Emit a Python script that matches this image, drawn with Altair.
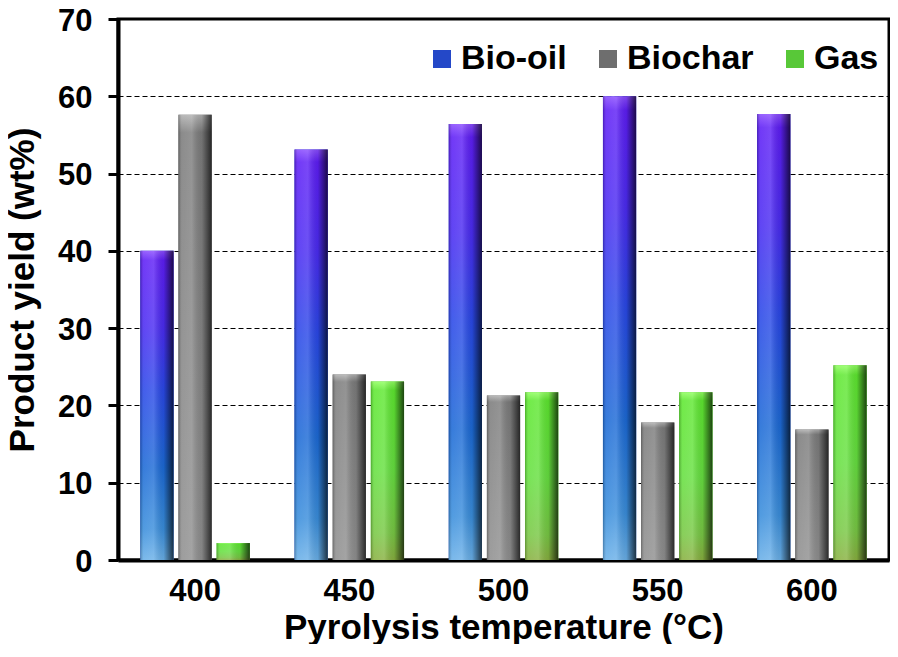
import altair as alt
import pandas as pd

temperatures = ["400", "450", "500", "550", "600"]
series = ["Bio-oil", "Biochar", "Gas"]
bio_oil = [40.0, 53.1, 56.4, 60.0, 57.7]
biochar = [57.6, 24.0, 21.3, 17.8, 16.9]
gas = [2.2, 23.1, 21.7, 21.7, 25.2]
y_ticks = [0, 10, 20, 30, 40, 50, 60, 70]
legend_colors = ["#2448c8", "#6e6e6e", "#58c838"]

rows = []
for name, vals in zip(series, [bio_oil, biochar, gas]):
    for t, v in zip(temperatures, vals):
        rows.append({"temp": t, "product": name, "yield": v})
df = pd.DataFrame(rows)

FONT = "Liberation Sans"

x_enc = alt.X(
    "temp:N", sort=temperatures,
    scale=alt.Scale(paddingInner=0.29, paddingOuter=0.145),
    axis=alt.Axis(title="Pyrolysis temperature (°C)", labelAngle=0, ticks=False, tickSize=0,
                  labelPadding=16, titlePadding=4, domainWidth=4, domainColor="black", grid=False,
                  labelFontSize=31, titleFontSize=35),
)
xoff = alt.XOffset("product:N", sort=series,
                   scale=alt.Scale(domain=series, paddingInner=0.13, paddingOuter=0))
y_enc = alt.Y(
    "yield:Q", scale=alt.Scale(domain=[0, 70], nice=False),
    axis=alt.Axis(values=y_ticks, title="Product yield (wt%)", grid=True, gridDash=[5, 3],
                  gridColor="black", gridWidth=1, gridOpacity=1, tickSize=10, tickWidth=3,
                  tickColor="black", labelPadding=16, labelOffset=2, titlePadding=17,
                  domainWidth=4, domainColor="black", labelFontSize=31, titleFontSize=35),
)

base = alt.Chart(df).mark_bar().encode(
    x=x_enc, xOffset=xoff, y=y_enc,
    color=alt.Color("product:N", sort=series,
                    scale=alt.Scale(domain=series, range=legend_colors),
                    legend=alt.Legend(title=None, orient="none", legendX=307, legendY=23,
                                      direction="horizontal")),
)


def grad(stops, horizontal=False):
    if horizontal:
        return alt.Gradient(gradient="linear",
                            stops=[alt.GradientStop(color=c, offset=o) for o, c in stops],
                            x1=0, x2=1, y1=0, y2=0)
    return alt.Gradient(gradient="linear",
                        stops=[alt.GradientStop(color=c, offset=o) for o, c in stops],
                        x1=0, x2=0, y1=0, y2=1)


series_stops = {
    "Bio-oil": [(0, "#8a4cff"), (0.03, "#5e1ef6"), (0.25, "#4a2cf2"), (0.45, "#2a48e8"),
                (0.7, "#1c6ad6"), (0.9, "#3a8edc"), (1, "#6ab0e8")],
    "Biochar": [(0, "#b0b0b0"), (0.04, "#7c7c7c"), (0.5, "#868686"), (1, "#909090")],
    "Gas": [(0, "#90ff60"), (0.05, "#5ee830"), (0.5, "#66e040"), (0.85, "#78c844"), (1, "#88b040")],
}

layers = [base]
for name in series:
    layers.append(
        alt.Chart(df).transform_filter(alt.datum.product == name)
        .mark_bar(color=grad(series_stops[name]))
        .encode(x=x_enc, xOffset=xoff, y=y_enc)
    )

shade = alt.Chart(df).mark_bar(color=grad([
    (0, "rgba(0,0,0,0.25)"), (0.1, "rgba(255,255,255,0.12)"), (0.4, "rgba(255,255,255,0.18)"),
    (0.7, "rgba(0,0,0,0.08)"), (0.88, "rgba(0,0,0,0.45)"), (1, "rgba(0,0,0,0.7)")],
    horizontal=True)).encode(x=x_enc, xOffset=xoff, y=y_enc)
layers.append(shade)

chart = alt.layer(*layers).properties(
    width=771, height=541,
    autosize=alt.AutoSizeParams(type="none"),
    padding={"left": 110, "top": 11, "right": 1, "bottom": 84},
).configure_view(stroke="black", strokeWidth=3).configure_axis(
    labelFont=FONT, titleFont=FONT, labelFontWeight="bold", titleFontWeight="bold",
    labelColor="black", titleColor="black",
).configure_legend(
    labelFont=FONT, labelFontSize=34, labelFontWeight="bold", labelColor="black",
    symbolType="square", symbolSize=324, symbolStrokeWidth=0, symbolOpacity=1,
    labelOffset=2, columnPadding=24, padding=0,
)

chart.save("out.html", embed_options={"renderer": "svg", "actions": False})
